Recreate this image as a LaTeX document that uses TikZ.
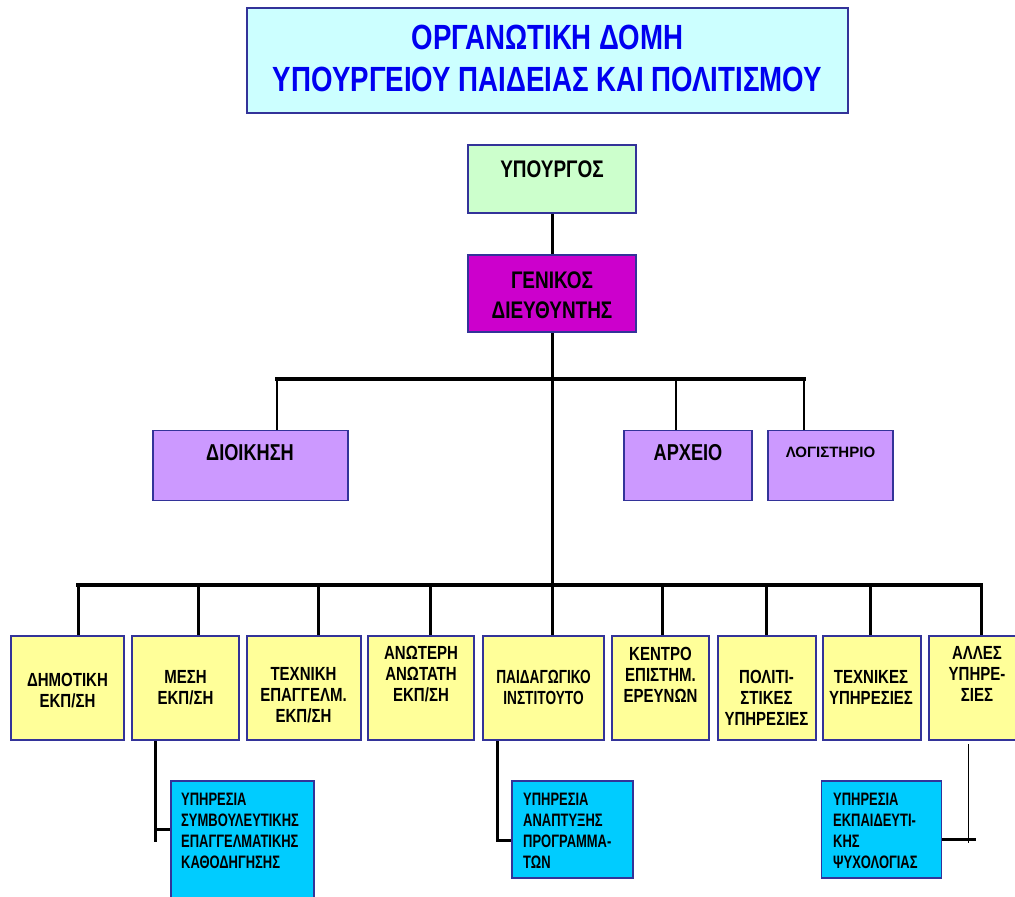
\documentclass[tikz,border=0pt]{standalone}
\usepackage{fontspec}
\setmainfont{Liberation Sans}[FakeStretch=0.79]
\usetikzlibrary{backgrounds}
\definecolor{bord}{HTML}{333399}
\definecolor{titlefill}{HTML}{CCFFFF}
\definecolor{titletext}{HTML}{0000F0}
\definecolor{greenfill}{HTML}{CCFFCC}
\definecolor{magfill}{HTML}{CC00CC}
\definecolor{purfill}{HTML}{CC99FF}
\definecolor{yelfill}{HTML}{FFFF99}
\definecolor{bluefill}{HTML}{00CCFF}
\begin{document}
\begin{tikzpicture}[x=1pt,y=-1pt,
  box/.style={draw=bord, line width=1.1pt, inner sep=0pt, rectangle},
  ybox/.style={box, fill=yelfill, minimum height=104pt},
  bbox/.style={box, fill=bluefill},
  pbox/.style={box, fill=purfill, minimum height=70pt},
  txt/.style={inner sep=0pt, align=center, text=black, font=\bfseries\fontsize{19}{21}\selectfont},
  btxt/.style={inner sep=0pt, align=left, anchor=west, text=black, font=\bfseries\fontsize{18}{21}\selectfont\addfontfeature{FakeStretch=0.72}},
  conn/.style={line width=3pt, black, line cap=rect, line join=miter},
]
\useasboundingbox (0,0) rectangle (1015,897);

% title
\node[box, fill=titlefill, minimum width=601pt, minimum height=105pt] (title) at (547.5,60.5) {};
\node[inner sep=0pt, align=center, text=titletext, font=\bfseries\fontsize{35}{42}\selectfont] (titletxt) at (547.5,58) {ΟΡΓΑΝΩΤΙΚΗ ΔΟΜΗ\\ΥΠΟΥΡΓΕΙΟΥ ΠΑΙΔΕΙΑΣ ΚΑΙ ΠΟΛΙΤΙΣΜΟΥ};

% top boxes
\node[box, fill=greenfill, minimum width=168pt, minimum height=68pt] (ypo) at (552,179) {};
\node[txt, font=\bfseries\fontsize{24}{30}\selectfont] (ypotxt) at (552,169) {ΥΠΟΥΡΓΟΣ};
\node[box, fill=magfill, minimum width=168pt, minimum height=77pt] (gen) at (552,293.5) {};
\node[txt, font=\bfseries\fontsize{24}{30.5}\selectfont] (gentxt) at (552,295) {ΓΕΝΙΚΟΣ\\ΔΙΕΥΘΥΝΤΗΣ};

% second row
\node[pbox, minimum width=195pt] (dioik) at (250.5,465.5) {};
\node[txt, font=\bfseries\fontsize{23}{26}\selectfont] (dioiktxt) at (250,453) {ΔΙΟΙΚΗΣΗ};
\node[pbox, minimum width=128pt] (arx) at (688,465.5) {};
\node[txt, font=\bfseries\fontsize{23}{26}\selectfont] (arxtxt) at (688,453) {ΑΡΧΕΙΟ};
\node[pbox, minimum width=125pt] (log) at (830.5,465.5) {};
\node[txt, font=\bfseries\fontsize{15}{18}\selectfont] (logtxt) at (830.5,452) {\addfontfeature{FakeStretch=1.0}ΛΟΓΙΣΤΗΡΙΟ};

% third row
\node[ybox, minimum width=113pt] (dim) at (67.5,688) {};
\node[txt] (dimtxt) at (67.5,690.5) {ΔΗΜΟΤΙΚΗ\\ΕΚΠ/ΣΗ};
\node[ybox, minimum width=107pt] (mes) at (185.5,688) {};
\node[txt] (mestxt) at (185.5,687.5) {ΜΕΣΗ\\ΕΚΠ/ΣΗ};
\node[ybox, minimum width=114pt, line width=2pt] (tex) at (304,688) {};
\node[txt] (textxt) at (303.5,695) {ΤΕΧΝΙΚΗ\\ΕΠΑΓΓΕΛΜ.\\ΕΚΠ/ΣΗ};
\node[ybox, minimum width=106pt] (anw) at (421,688) {};
\node[txt] (anwtxt) at (421,674.5) {ΑΝΩΤΕΡΗ\\ΑΝΩΤΑΤΗ\\ΕΚΠ/ΣΗ};
\node[ybox, minimum width=121pt] (paid) at (543.5,688) {};
\node[txt] (paidtxt) at (543.5,687.5) {\addfontfeature{FakeStretch=0.72}ΠΑΙΔΑΓΩΓΙΚΟ\\\addfontfeature{FakeStretch=0.72}ΙΝΣΤΙΤΟΥΤΟ};
\node[ybox, minimum width=97pt] (ken) at (660.5,688) {};
\node[txt] (kentxt) at (660.5,674.5) {ΚΕΝΤΡΟ\\ΕΠΙΣΤΗΜ.\\ΕΡΕΥΝΩΝ};
\node[ybox, minimum width=98pt] (pol) at (767,688) {};
\node[txt] (poltxt) at (766.5,698) {ΠΟΛΙΤΙ-\\ΣΤΙΚΕΣ\\ΥΠΗΡΕΣΙΕΣ};
\node[ybox, minimum width=98pt] (texy) at (872,688) {};
\node[txt] (texytxt) at (871,687.5) {ΤΕΧΝΙΚΕΣ\\ΥΠΗΡΕΣΙΕΣ};
\node[ybox, minimum width=96pt] (alles) at (977,688) {};
\node[txt] (allestxt) at (977,674) {ΑΛΛΕΣ\\ΥΠΗΡΕ-\\ΣΙΕΣ};

% blue boxes
\node[bbox, minimum width=143pt, minimum height=124pt] (symb) at (242.5,843) {};
\node[btxt] (symbtxt) at (181,830.5) {ΥΠΗΡΕΣΙΑ\\ΣΥΜΒΟΥΛΕΥΤΙΚΗΣ\\ΕΠΑΓΓΕΛΜΑΤΙΚΗΣ\\ΚΑΘΟΔΗΓΗΣΗΣ};
\node[bbox, minimum width=121pt, minimum height=97pt] (anapt) at (572.5,829.5) {};
\node[btxt] (anapttxt) at (523,830.5) {ΥΠΗΡΕΣΙΑ\\ΑΝΑΠΤΥΞΗΣ\\ΠΡΟΓΡΑΜΜΑ-\\ΤΩΝ};
\node[bbox, minimum width=120pt, minimum height=97pt] (psy) at (881.5,829.5) {};
\node[btxt] (psytxt) at (833,830.5) {ΥΠΗΡΕΣΙΑ\\ΕΚΠΑΙΔΕΥΤΙ-\\ΚΗΣ\\ΨΥΧΟΛΟΓΙΑΣ};

% coordinates
\coordinate (b1c) at (552,379);
\coordinate (b1l) at (277,379);
\coordinate (b1a) at (676,379);
\coordinate (b1r) at (804,379);
\coordinate (b2c) at (552,585);
\coordinate (b2l) at (78,585);
\coordinate (b2r) at (981,585);
\coordinate (d1) at (78,585);
\coordinate (d2) at (198,585);
\coordinate (d3) at (318,585);
\coordinate (d4) at (430,585);
\coordinate (d5) at (552,585);
\coordinate (d6) at (662,585);
\coordinate (d7) at (766,585);
\coordinate (d8) at (870,585);
\coordinate (d9) at (981,585);
\coordinate (m1) at (155,840);
\coordinate (m2) at (155,829);
\coordinate (p1) at (497,840);
\coordinate (a1) at (968,744);
\coordinate (a2) at (968,843);
\coordinate (pe) at (974,839);

\begin{scope}[on background layer]
  \draw[conn] (ypo.south) -- (gen.north);
  \draw[conn] (gen.south) -- (b2c);
  \draw[conn, line width=3.5pt] (b1l) -- (b1r);
  \draw[conn, line width=2.5pt] (b1l) -- (b1l |- dioik.north);
  \draw[conn, line width=2.5pt] (b1a) -- (b1a |- arx.north);
  \draw[conn, line width=2.5pt] (b1r) -- (b1r |- log.north);
  \draw[conn, line width=3.5pt] (b2l) -- (b2r);
  \draw[conn] (d1) -- (d1 |- dim.north);
  \draw[conn] (d2) -- (d2 |- mes.north);
  \draw[conn] (d3) -- (d3 |- tex.north);
  \draw[conn] (d4) -- (d4 |- anw.north);
  \draw[conn] (d5) -- (d5 |- paid.north);
  \draw[conn] (d6) -- (d6 |- ken.north);
  \draw[conn] (d7) -- (d7 |- pol.north);
  \draw[conn] (d8) -- (d8 |- texy.north);
  \draw[conn] (d9) -- (d9 |- alles.north);
  \draw[conn] (mes.south -| m1) -- (m1);
  \draw[conn] (m2) -- (symb.west |- m2);
  \draw[conn] (paid.south -| p1) -- (p1) -- (anapt.west |- p1);
  \draw[conn] (psy.east |- pe) -- (pe);
\end{scope}
\draw[black, line width=1pt] (a1) -- (a2);
\end{tikzpicture}
\end{document}
